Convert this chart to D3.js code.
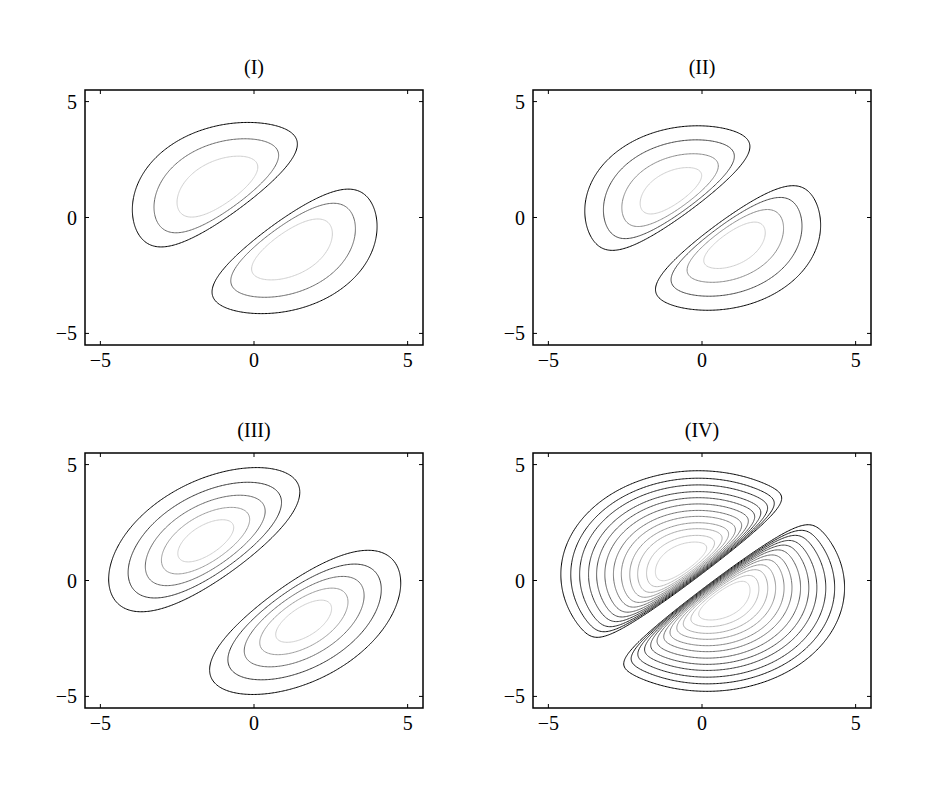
<!DOCTYPE html><html><head><meta charset="utf-8"><script src="https://cdn.jsdelivr.net/npm/d3@7"></script>
<style>body{margin:0;background:#fff}</style></head><body><script>
const titles=["(I)","(II)","(III)","(IV)"];
const ticks=[-5,0,5];
const gapSharpness=[1,1.3,0.5,2.5];
const uCenter=[0.3,0.3,0.8,0.3];
const vCenter=[0.1,0.1,0.1,0.1];
const uScale=[26,26,16,32];
const vScale=[26,26,26,32];
const levelFrac=[[0.65,0.78,0.9],[0.65,0.76,0.86,0.94],[0.55,0.68,0.79,0.88,0.95],
 [0.55,0.6,0.645,0.69,0.73,0.77,0.81,0.845,0.88,0.91,0.94,0.965]];
const W=928,H=790,N=241,D=[-5.5,5.5];
const svg=d3.select("body").append("svg").attr("width",W).attr("height",H);
const pos=[[85,90],[533,90],[85,453],[533,453]],pw=338,ph=255;
pos.forEach(([px,py],k)=>{
 const x=d3.scaleLinear().domain(D).range([px,px+pw]);
 const y=d3.scaleLinear().domain(D).range([py+ph,py]);
 const g=svg.append("g");
 const vals=new Float64Array(N*N);
 for(let j=0;j<N;j++)for(let i=0;i<N;i++){
  const X=D[0]+(D[1]-D[0])*i/(N-1),Y=D[1]-(D[1]-D[0])*j/(N-1);
  let u=(Y-X)/Math.SQRT2,v=(X+Y)/Math.SQRT2;
  if(u<0){u=-u;v=-v;}
  vals[j*N+i]=Math.tanh(gapSharpness[k]*u)*Math.exp(-((u-uCenter[k])**2/uScale[k]+(v-vCenter[k])**2/vScale[k]));
 }
 const mx=d3.max(vals);
 const lv=levelFrac[k].map(f=>f*mx);
 const col=d3.scaleLinear().domain([0,lv.length-1]).range(["#000","#cfcfcf"]);
 const cs=d3.contours().size([N,N]).thresholds(lv)(vals);
 const tr=d3.geoTransform({point(a,b){this.stream.point(x(D[0]+(D[1]-D[0])*a/(N-1)),y(D[1]-(D[1]-D[0])*b/(N-1)));}});
 const path=d3.geoPath(tr);
 g.selectAll("path.c").data(cs).join("path").attr("d",path).attr("fill","none")
  .attr("stroke",(d,i)=>col(i)).attr("stroke-width",1);
 g.append("rect").attr("x",px).attr("y",py).attr("width",pw).attr("height",ph).attr("fill","none").attr("stroke","#000").attr("stroke-width",1.5);
 ticks.forEach(t=>{
  g.append("line").attr("x1",x(t)).attr("x2",x(t)).attr("y1",py+ph).attr("y2",py+ph-4).attr("stroke","#000");
  g.append("line").attr("x1",x(t)).attr("x2",x(t)).attr("y1",py).attr("y2",py+4).attr("stroke","#000");
  g.append("line").attr("y1",y(t)).attr("y2",y(t)).attr("x1",px).attr("x2",px+4).attr("stroke","#000");
  g.append("line").attr("y1",y(t)).attr("y2",y(t)).attr("x1",px+pw).attr("x2",px+pw-4).attr("stroke","#000");
  g.append("text").attr("x",x(t)).attr("y",py+ph+22).attr("text-anchor","middle").text(t===0?"0":(t<0?"\u2212"+(-t):t));
  g.append("text").attr("x",px-8).attr("y",y(t)+7).attr("text-anchor","end").text(t===0?"0":(t<0?"\u2212"+(-t):t));
 });
 g.append("text").attr("x",px+pw/2).attr("y",py-16).attr("text-anchor","middle").text(titles[k]);
});
svg.selectAll("text").attr("font-family","Liberation Serif").attr("font-size",20);
</script></body></html>
